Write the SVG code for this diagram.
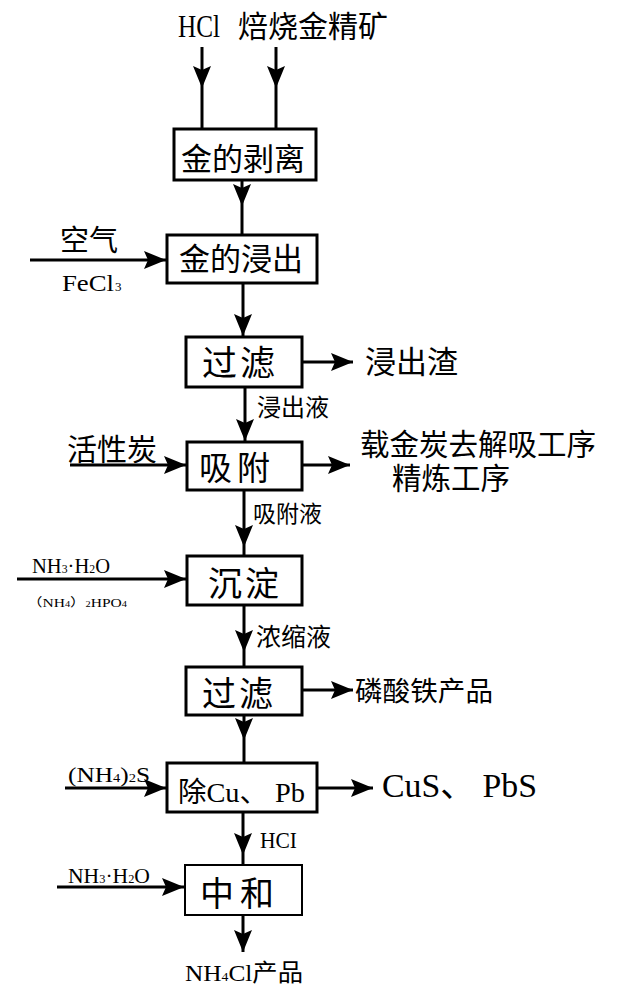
<svg xmlns="http://www.w3.org/2000/svg" width="617" height="1000" viewBox="0 0 617 1000">
<style>
.box{fill:#fff;stroke:#000;stroke-width:3}
.ln{fill:none;stroke:#000;stroke-width:3}
.cjk{font-family:"Noto Sans CJK SC","Noto Sans CJK JP",sans-serif;fill:#000}
.cjk2{font-family:"Liberation Sans","Noto Sans CJK SC",sans-serif;fill:#000}
.lat{font-family:"Liberation Serif","Noto Sans CJK SC",serif;fill:#000}
.mid{marker-mid:url(#ah)}
.end{marker-end:url(#ah)}
</style>
<defs>
<marker id="ah" markerUnits="userSpaceOnUse" markerWidth="24" markerHeight="20" refX="22" refY="9" orient="auto">
<path d="M0,0 L22,9 L0,18 L4,9 z" fill="#000"/>
</marker>
</defs>
<rect width="617" height="1000" fill="#fff"/>

<g id="connectors">
<path class="ln mid" d="M202,47 L202,88 L202,129"/>
<path class="ln mid" d="M276,47 L276,88 L276,129"/>
<path class="ln mid" d="M242,180 L242,206 L242,235"/>
<path class="ln end" d="M30,260 L166,260"/>
<path class="ln mid" d="M243,283 L243,336 L243,337"/>
<path class="ln end" d="M302,362 L353,362"/>
<path class="ln mid" d="M245,387 L245,441 L245,442"/>
<path class="ln end" d="M70,465 L186,465"/>
<path class="ln end" d="M302,465 L350,465"/>
<path class="ln mid" d="M244,490 L244,547 L244,556"/>
<path class="ln end" d="M17,579 L186,579"/>
<path class="ln mid" d="M244,605 L244,652 L244,667"/>
<path class="ln end" d="M302,690 L353,690"/>
<path class="ln mid" d="M244,715 L244,740 L244,763"/>
<path class="ln end" d="M65,788 L166,788"/>
<path class="ln end" d="M317,788 L373,788"/>
<path class="ln mid" d="M243,812 L243,855 L243,865"/>
<path class="ln end" d="M57,887 L184,887"/>
<path class="ln end" d="M243,915 L243,952"/>
</g>

<g id="inputs-top">
<text class="lat" x="178" y="37" font-size="32" textLength="42" lengthAdjust="spacingAndGlyphs">HCl</text>
<text class="cjk" x="238" y="37" font-size="30">焙烧金精矿</text>
</g>

<g id="n1">
<rect class="box" x="174" y="129" width="142" height="51"/>
<text class="cjk" x="243" y="170" font-size="31" text-anchor="middle">金的剥离</text>
</g>

<g id="n2">
<rect class="box" x="167" y="235" width="150" height="48"/>
<text class="cjk" x="241" y="270" font-size="31" text-anchor="middle">金的浸出</text>
<text class="cjk" x="60" y="251" font-size="29">空气</text>
<text class="lat" x="62" y="291" font-size="24" textLength="52" lengthAdjust="spacingAndGlyphs">FeCl</text>
<text class="lat" x="115" y="291" font-size="13">3</text>
</g>

<g id="n3">
<rect class="box" x="186" y="337" width="116" height="50"/>
<text class="cjk" x="240" y="376" font-size="35" text-anchor="middle" letter-spacing="3">过滤</text>
<text class="cjk" x="365" y="373" font-size="31">浸出渣</text>
<text class="cjk" x="257" y="416" font-size="24">浸出液</text>
</g>

<g id="n4">
<rect class="box" x="187" y="442" width="115" height="48"/>
<text class="cjk" x="199" y="480" font-size="33" letter-spacing="5">吸附</text>
<text class="cjk" x="67" y="460" font-size="30">活性炭</text>
<text class="cjk2" x="360" y="455" font-size="29.5">载金炭去解吸工序</text>
<text class="cjk2" x="392" y="489" font-size="29.5">精炼工序</text>
<text class="cjk" x="253" y="522" font-size="23">吸附液</text>
</g>

<g id="n5">
<rect class="box" x="187" y="556" width="115" height="49"/>
<text class="cjk" x="245" y="596" font-size="34" text-anchor="middle" letter-spacing="3">沉淀</text>
<text class="lat" x="32" y="573" font-size="21" textLength="78" lengthAdjust="spacingAndGlyphs">NH<tspan font-size="12">3</tspan>·H<tspan font-size="12">2</tspan>O</text>
<text class="lat" x="27" y="607" font-size="12" textLength="100" lengthAdjust="spacingAndGlyphs">（NH<tspan font-size="8">4</tspan>）<tspan font-size="8">2</tspan>HPO<tspan font-size="8">4</tspan></text>
<text class="cjk" x="256" y="646" font-size="25">浓缩液</text>
</g>

<g id="n6">
<rect class="box" x="186" y="667" width="116" height="48"/>
<text class="cjk" x="239" y="706" font-size="34" text-anchor="middle" letter-spacing="3">过滤</text>
<text class="cjk" x="355" y="701" font-size="27.6">磷酸铁产品</text>
</g>

<g id="n7">
<rect class="box" x="167" y="763" width="150" height="49"/>
<text class="lat" x="178" y="802" font-size="28" textLength="127" lengthAdjust="spacingAndGlyphs">除Cu、 Pb</text>
<text class="lat" x="68" y="782" font-size="21" textLength="82" lengthAdjust="spacingAndGlyphs">(NH<tspan font-size="12">4</tspan>)<tspan font-size="12">2</tspan>S</text>
<text class="lat" x="382" y="797" font-size="34" textLength="155" lengthAdjust="spacingAndGlyphs">CuS、 PbS</text>
<text class="lat" x="260" y="848" font-size="23" textLength="37" lengthAdjust="spacingAndGlyphs">HCI</text>
</g>

<g id="n8">
<rect class="box" x="185" y="865" width="117" height="50" style="stroke-width:2"/>
<text class="cjk" x="240" y="906" font-size="34" text-anchor="middle" letter-spacing="6">中和</text>
<text class="lat" x="68" y="883" font-size="21" textLength="82" lengthAdjust="spacingAndGlyphs">NH<tspan font-size="12">3</tspan>·H<tspan font-size="12">2</tspan>O</text>
<text class="lat" x="185" y="981" font-size="24" textLength="118" lengthAdjust="spacingAndGlyphs">NH<tspan font-size="13">4</tspan>Cl产品</text>
</g>
</svg>
